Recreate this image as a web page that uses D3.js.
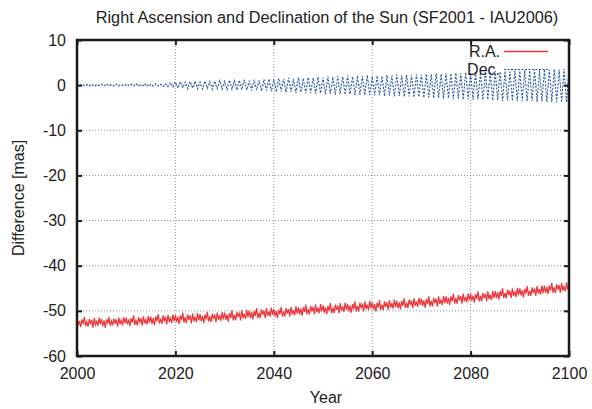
<!DOCTYPE html>
<html>
<head>
<meta charset="utf-8">
<script src="https://cdn.jsdelivr.net/npm/d3@7"></script>
<style>
  body { margin: 0; background: #fff; }
  svg { font-family: "Liberation Sans", Arial, sans-serif; }
</style>
</head>
<body>
<svg id="chart"></svg>
<script>
// R.A. sampled every quarter year, Dec. every half year, both from 2000.0 to 2100.0
let startYear = 2000,
    raStep = 0.25,
    decStep = 0.5;

let raValues = [
  -51.7, -53.2, -52.2, -53.6, -51.9, -52.9, -51.3, -53.4, -52.4, -53.5, -51.8, -52.8, -52.0, -53.7, -51.6, -53.1, -52.3, -53.3, -51.5, -53.0,
  -51.8, -53.4, -52.1, -53.8, -51.9, -52.7, -51.4, -53.3, -52.2, -53.2, -51.7, -52.9, -51.9, -53.5, -51.5, -53.0, -52.1, -53.2, -51.4, -52.8,
  -51.5, -53.0, -51.9, -53.4, -51.6, -52.6, -51.0, -53.1, -52.0, -53.2, -51.4, -52.5, -51.6, -53.3, -51.2, -52.8, -51.9, -53.0, -51.1, -52.6,
  -51.3, -52.9, -51.6, -53.2, -51.2, -52.3, -50.7, -52.8, -51.7, -52.9, -51.0, -52.2, -51.3, -53.0, -50.9, -52.5, -51.6, -52.7, -50.8, -52.3,
  -50.9, -52.5, -51.3, -52.9, -51.0, -52.1, -50.4, -52.6, -51.4, -52.7, -50.8, -52.0, -51.0, -52.8, -50.6, -52.3, -51.3, -52.5, -50.5, -52.1,
  -50.7, -52.3, -51.1, -52.7, -50.8, -51.9, -50.2, -52.4, -51.2, -52.5, -50.6, -51.8, -50.8, -52.5, -50.4, -52.0, -51.0, -52.2, -50.3, -51.9,
  -50.4, -52.0, -50.8, -52.4, -50.5, -51.6, -49.9, -52.1, -50.9, -52.1, -50.2, -51.4, -50.4, -52.1, -49.9, -51.6, -50.6, -51.8, -49.8, -51.4,
  -50.0, -51.6, -50.3, -51.9, -50.0, -51.1, -49.4, -51.6, -50.4, -51.6, -49.7, -50.9, -49.9, -51.6, -49.4, -51.1, -50.1, -51.3, -49.3, -50.9,
  -49.6, -51.2, -50.0, -51.6, -49.7, -50.8, -49.1, -51.3, -50.1, -51.3, -49.4, -50.6, -49.6, -51.3, -49.1, -50.8, -49.8, -51.0, -49.0, -50.6,
  -49.2, -50.8, -49.5, -51.1, -49.2, -50.3, -48.6, -50.8, -49.6, -50.8, -48.9, -50.1, -49.1, -50.8, -48.6, -50.3, -49.3, -50.5, -48.5, -50.1,
  -48.8, -50.4, -49.2, -50.8, -48.9, -50.0, -48.3, -50.5, -49.3, -50.5, -48.6, -49.8, -48.8, -50.5, -48.3, -50.0, -49.0, -50.2, -48.2, -49.8,
  -48.5, -50.1, -48.8, -50.4, -48.5, -49.6, -47.9, -50.1, -48.9, -50.1, -48.2, -49.4, -48.4, -50.1, -47.9, -49.6, -48.6, -49.8, -47.8, -49.4,
  -48.1, -49.7, -48.5, -50.1, -48.2, -49.3, -47.6, -49.8, -48.6, -49.8, -47.9, -49.1, -48.1, -49.8, -47.6, -49.3, -48.3, -49.5, -47.5, -49.1,
  -47.8, -49.4, -48.1, -49.7, -47.8, -48.9, -47.2, -49.4, -48.2, -49.4, -47.5, -48.7, -47.7, -49.4, -47.2, -48.9, -47.9, -49.1, -47.1, -48.7,
  -47.3, -48.9, -47.7, -49.3, -47.4, -48.5, -46.8, -49.0, -47.8, -49.0, -47.1, -48.3, -47.3, -49.0, -46.8, -48.5, -47.5, -48.7, -46.7, -48.3,
  -46.8, -48.4, -47.1, -48.7, -46.8, -47.9, -46.2, -48.4, -47.2, -48.4, -46.5, -47.7, -46.7, -48.4, -46.2, -47.9, -46.9, -48.1, -46.1, -47.7,
  -46.2, -47.8, -46.6, -48.2, -46.3, -47.4, -45.7, -47.9, -46.7, -47.9, -46.0, -47.2, -46.2, -47.9, -45.7, -47.4, -46.4, -47.6, -45.6, -47.2,
  -45.6, -47.2, -45.9, -47.5, -45.6, -46.7, -45.0, -47.2, -46.0, -47.2, -45.3, -46.5, -45.5, -47.2, -45.0, -46.7, -45.7, -46.9, -44.9, -46.5,
  -45.0, -46.6, -45.4, -47.0, -45.1, -46.2, -44.5, -46.7, -45.5, -46.7, -44.8, -46.0, -45.0, -46.7, -44.5, -46.2, -45.2, -46.4, -44.4, -46.0,
  -44.4, -46.0, -44.7, -46.3, -44.4, -45.5, -43.8, -46.0, -44.8, -46.0, -44.1, -45.3, -44.3, -46.0, -43.8, -45.5, -44.5, -45.7, -43.7, -45.3,
  -44.2
];

let decValues = [
  0.1, -0.2, 0.2, -0.1, 0.1, -0.2, 0.2, -0.2, 0.1, -0.1, 0.2, -0.2, 0.3, -0.1, 0.1, -0.2, 0.2, -0.2, 0.1, -0.2,
  0.2, -0.1, 0.2, -0.2, 0.3, -0.2, 0.1, -0.2, 0.3, -0.3, 0.2, -0.2, 0.3, -0.2, 0.2, -0.3, 0.3, -0.3, 0.6, -0.4,
  0.7, -0.7, 0.8, -0.6, 0.7, -0.8, 0.8, -0.7, 0.9, -0.8, 0.7, -0.9, 0.9, -0.7, 0.8, -0.9, 0.9, -0.8, 1.0, -0.9,
  0.9, -1.0, 1.1, -0.9, 1.0, -1.1, 1.1, -1.0, 1.2, -1.1, 1.0, -1.2, 1.2, -1.1, 1.1, -1.3, 1.3, -1.2, 1.4, -1.4,
  1.3, -1.5, 1.5, -1.4, 1.4, -1.6, 1.6, -1.5, 1.4, -1.7, 1.7, -1.6, 1.5, -1.8, 1.7, -1.7, 1.6, -1.9, 1.8, -1.8,
  1.7, -2.0, 1.9, -1.9, 1.8, -2.1, 2.0, -2.0, 1.9, -2.1, 2.1, -2.0, 1.9, -2.2, 2.1, -2.1, 2.0, -2.2, 2.2, -2.2,
  1.9, -2.3, 2.1, -2.2, 2.0, -2.4, 2.2, -2.3, 2.1, -2.5, 2.3, -2.4, 2.2, -2.6, 2.3, -2.5, 2.2, -2.7, 2.4, -2.6,
  2.3, -2.8, 2.5, -2.7, 2.4, -2.9, 2.6, -2.8, 2.5, -3.0, 2.7, -2.9, 2.6, -3.1, 2.7, -3.0, 2.6, -3.2, 2.8, -3.1,
  2.7, -3.2, 2.9, -3.1, 2.8, -3.3, 3.0, -3.2, 2.9, -3.4, 3.1, -3.3, 3.0, -3.5, 3.1, -3.4, 3.0, -3.5, 3.2, -3.5,
  3.1, -3.5, 3.3, -3.6, 3.2, -3.5, 3.4, -3.7, 3.3, -3.6, 3.5, -3.7, 3.4, -3.8, 3.5, -3.7, 3.4, -3.8, 3.6, -3.8,
  3.4
];

let xTicks = [2000, 2020, 2040, 2060, 2080, 2100];
let yTicks = [-60, -50, -40, -30, -20, -10, 0, 10];

let seriesNames = ["R.A.", "Dec."];
let seriesColors = ["#ee3338", "#2b5aa8"];

let width = 592, height = 409;
let mLeft = 77, mRight = 569, mTop = 40, mBottom = 356;

let svg = d3.select("#chart")
    .attr("width", width)
    .attr("height", height);

let x = d3.scaleLinear().domain([2000, 2100]).range([mLeft, mRight]);
let y = d3.scaleLinear().domain([-60, 10]).range([mBottom, mTop]);

// grid
svg.append("g").selectAll("line")
    .data(xTicks.slice(1, -1))
    .enter().append("line")
    .attr("x1", d => x(d)).attr("x2", d => x(d))
    .attr("y1", mTop).attr("y2", mBottom)
    .attr("stroke", "#777").attr("stroke-width", 0.8)
    .attr("stroke-dasharray", "1,2");

svg.append("g").selectAll("line")
    .data(yTicks.slice(1, -1))
    .enter().append("line")
    .attr("x1", mLeft).attr("x2", mRight)
    .attr("y1", d => y(d)).attr("y2", d => y(d))
    .attr("stroke", "#777").attr("stroke-width", 0.8)
    .attr("stroke-dasharray", "1,2");

let raLine = d3.line()
    .x((d, i) => x(startYear + i * raStep))
    .y(d => y(d));

let decLine = d3.line()
    .x((d, i) => x(startYear + i * decStep))
    .y(d => y(d));

svg.append("path")
    .datum(raValues)
    .attr("d", raLine)
    .attr("fill", "none")
    .attr("stroke", seriesColors[0])
    .attr("stroke-width", 1.2);

svg.append("path")
    .datum(decValues)
    .attr("d", decLine)
    .attr("fill", "none")
    .attr("stroke", seriesColors[1])
    .attr("stroke-width", 1.1)
    .attr("stroke-dasharray", "2,1.5");

// axes, ticks inward on all four sides
let plain = d => String(d);

let axisBottom = d3.axisBottom(x).tickValues(xTicks).tickFormat(plain)
    .tickSizeInner(-5).tickSizeOuter(0).tickPadding(12);
let axisTop = d3.axisTop(x).tickValues(xTicks).tickFormat("")
    .tickSizeInner(-5).tickSizeOuter(0);
let axisLeft = d3.axisLeft(y).tickValues(yTicks).tickFormat(plain)
    .tickSizeInner(-5).tickSizeOuter(0).tickPadding(11);
let axisRight = d3.axisRight(y).tickValues(yTicks).tickFormat("")
    .tickSizeInner(-5).tickSizeOuter(0);

function styleAxis(g) {
    g.select(".domain").remove();
    g.selectAll(".tick line").attr("stroke", "#1a1a1a").attr("stroke-width", 2);
    g.selectAll(".tick text")
        .attr("fill", "#222")
        .style("font-size", "16px")
        .style("font-family", "Liberation Sans, Arial, sans-serif");
}

svg.append("g").attr("transform", "translate(0," + mBottom + ")").call(axisBottom).call(styleAxis);
svg.append("g").attr("transform", "translate(0," + mTop + ")").call(axisTop).call(styleAxis);
svg.append("g").attr("transform", "translate(" + mLeft + ",0)").call(axisLeft).call(styleAxis);
svg.append("g").attr("transform", "translate(" + mRight + ",0)").call(axisRight).call(styleAxis);

svg.append("rect")
    .attr("x", mLeft).attr("y", mTop)
    .attr("width", mRight - mLeft).attr("height", mBottom - mTop)
    .attr("fill", "none")
    .attr("stroke", "#1a1a1a")
    .attr("stroke-width", 2.5);

// legend
let legend = svg.append("g");
seriesNames.forEach(function (name, i) {
    let ly = 51.5 + i * 18;
    legend.append("text")
        .attr("x", 500).attr("y", ly + 5.5)
        .attr("text-anchor", "end")
        .attr("fill", "#222")
        .style("font-size", "16px")
        .text(name);
    legend.append("line")
        .attr("x1", 504).attr("x2", 548)
        .attr("y1", ly).attr("y2", ly)
        .attr("stroke", seriesColors[i])
        .attr("stroke-width", i === 0 ? 1.3 : 1.1)
        .attr("stroke-dasharray", i === 0 ? null : "2,1.5");
});

// titles
svg.append("text")
    .attr("x", 327).attr("y", 23)
    .attr("text-anchor", "middle")
    .attr("fill", "#222")
    .style("font-size", "16.3px")
    .text("Right Ascension and Declination of the Sun (SF2001 - IAU2006)");

svg.append("text")
    .attr("x", (mLeft + mRight) / 2 + 3).attr("y", 403)
    .attr("text-anchor", "middle")
    .attr("fill", "#222")
    .style("font-size", "16px")
    .text("Year");

svg.append("text")
    .attr("transform", "translate(24," + ((mTop + mBottom) / 2) + ") rotate(-90)")
    .attr("text-anchor", "middle")
    .attr("fill", "#222")
    .style("font-size", "16px")
    .text("Difference [mas]");
</script>
</body>
</html>
